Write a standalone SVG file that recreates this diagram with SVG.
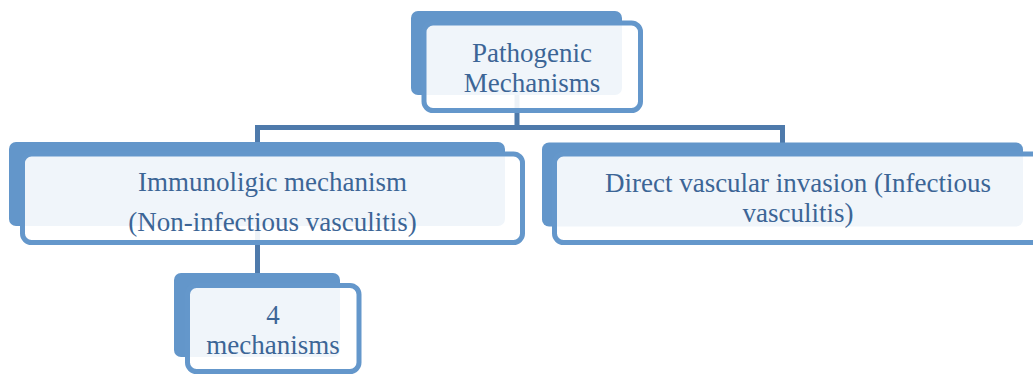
<svg xmlns="http://www.w3.org/2000/svg" width="1033" height="374" viewBox="0 0 1033 374">
  <style>
    .back { fill: #6396CA; }
    .front { fill: #FFFFFF; fill-opacity: 0.9; stroke: #6497CB; stroke-width: 5; }
    .conn { fill: none; stroke: #4E7AAB; stroke-width: 5; }
    .label { font-family: "Liberation Serif", "Times New Roman", serif; font-size: 27px; fill: #3C6596; text-anchor: middle; }
  </style>
  <rect width="1033" height="374" fill="#FFFFFF"/>
  <g id="connectors">
    <path class="conn" d="M517 60 V127.5 M257.5 160 V127.5 H782.5 V160"/>
    <path class="conn" d="M257.5 200 V275"/>
  </g>
  <g id="node-pathogenic">
    <rect class="back" x="411" y="11" width="211" height="84" rx="7"/>
    <rect class="front" x="424" y="23" width="216.5" height="87.5" rx="9"/>
    <text class="label"><tspan x="532" y="61.5">Pathogenic</tspan><tspan x="532" y="91.5">Mechanisms</tspan></text>
  </g>
  <g id="node-immunologic">
    <rect class="back" x="9" y="142" width="496" height="84" rx="7"/>
    <rect class="front" x="22.5" y="154" width="500" height="88.5" rx="9"/>
    <text class="label"><tspan x="272.5" y="191">Immunoligic mechanism</tspan><tspan x="272.5" y="231">(Non-infectious vasculitis)</tspan></text>
  </g>
  <g id="node-direct">
    <rect class="back" x="542" y="142.5" width="481" height="84" rx="7"/>
    <rect class="front" x="554.5" y="154" width="487" height="88.5" rx="9"/>
    <text class="label"><tspan x="798" y="191.5">Direct vascular invasion (Infectious</tspan><tspan x="798" y="221.5">vasculitis)</tspan></text>
  </g>
  <g id="node-four">
    <rect class="back" x="174" y="273" width="166" height="84" rx="7"/>
    <rect class="front" x="187.5" y="285.5" width="171.5" height="86" rx="9"/>
    <text class="label"><tspan x="273" y="323.5">4</tspan><tspan x="273" y="353.5">mechanisms</tspan></text>
  </g>
</svg>
